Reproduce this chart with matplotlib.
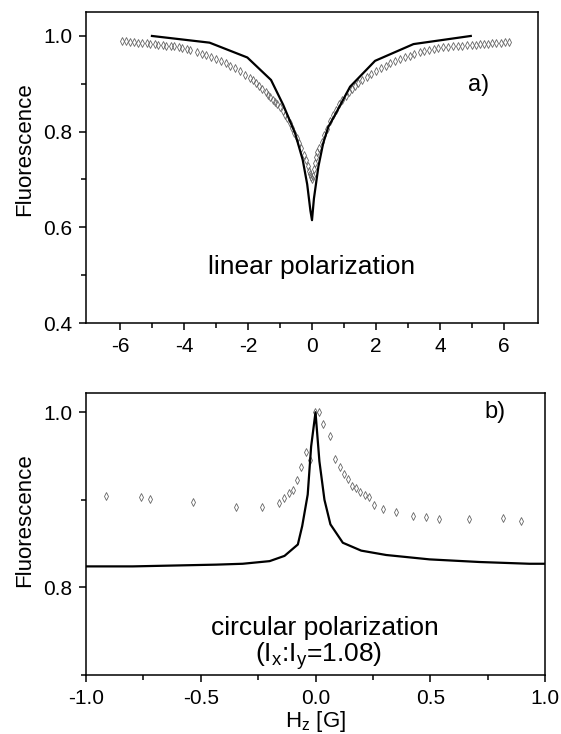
import matplotlib
matplotlib.use('Agg')
import matplotlib.pyplot as plt
from matplotlib.ticker import FixedLocator

plt.rcParams['font.family'] = ['Liberation Sans', 'DejaVu Sans']
plt.rcParams['axes.unicode_minus'] = False
plt.rcParams['mathtext.fontset'] = 'custom'
plt.rcParams['mathtext.rm'] = 'Liberation Sans'
plt.rcParams['mathtext.it'] = 'Liberation Sans'

# panel a) linear polarization: measured points (diamonds)
lin_x = [-5.92, -5.80, -5.67, -5.55, -5.42, -5.30, -5.17, -5.05, -4.92, -4.80,
         -4.67, -4.55, -4.42, -4.30, -4.17, -4.05, -3.92, -3.80, -3.60, -3.45,
         -3.30, -3.15, -3.00, -2.85, -2.70, -2.55, -2.40, -2.25, -2.10, -1.95,
         -1.85, -1.75, -1.65, -1.55, -1.45, -1.38, -1.30, -1.22, -1.15, -1.08,
         -1.00, -0.92, -0.85, -0.78, -0.70, -0.62, -0.55, -0.48, -0.40, -0.33,
         -0.26, -0.20, -0.14, -0.09, -0.05, -0.02, 0.00, 0.02,
         0.05, 0.08, 0.12, 0.17, 0.22, 0.30, 0.38, 0.46, 0.56, 0.65,
         0.75, 0.85, 0.95, 1.05, 1.15, 1.25, 1.35, 1.45, 1.57, 1.71,
         1.85, 2.00, 2.15, 2.30, 2.44, 2.60, 2.75, 2.90, 3.05, 3.20,
         3.37, 3.50, 3.65, 3.80, 3.95, 4.10, 4.25, 4.42, 4.55, 4.70,
         4.85, 5.00, 5.12, 5.25, 5.38, 5.50, 5.63, 5.76, 5.89, 6.02, 6.14]
lin_y = [0.989, 0.989, 0.988, 0.987, 0.986, 0.986, 0.985, 0.984, 0.983, 0.982,
         0.981, 0.980, 0.979, 0.978, 0.976, 0.975, 0.973, 0.971, 0.967, 0.963,
         0.960, 0.956, 0.952, 0.948, 0.943, 0.938, 0.932, 0.926, 0.919, 0.913,
         0.908, 0.902, 0.896, 0.889, 0.882, 0.877, 0.872, 0.867, 0.862, 0.857,
         0.852, 0.843, 0.835, 0.828, 0.818, 0.807, 0.797, 0.787, 0.777, 0.765,
         0.752, 0.740, 0.728, 0.718, 0.711, 0.705, 0.700, 0.708,
         0.722, 0.735, 0.748, 0.758, 0.766, 0.778, 0.792, 0.806, 0.822, 0.834,
         0.846, 0.857, 0.866, 0.875, 0.883, 0.890, 0.896, 0.902, 0.908, 0.915,
         0.921, 0.927, 0.933, 0.938, 0.943, 0.948, 0.952, 0.956, 0.959, 0.963,
         0.967, 0.969, 0.971, 0.973, 0.975, 0.976, 0.977, 0.978, 0.979, 0.980,
         0.981, 0.982, 0.982, 0.983, 0.984, 0.984, 0.985, 0.985, 0.986, 0.987, 0.987]

# panel a) theory curve
lin_theory_x = [-5.0, -3.2, -2.02, -1.28, -0.9, -0.53, -0.29, -0.15, -0.05, 0.0,
                0.06, 0.2, 0.35, 0.51, 0.72, 1.19, 1.97, 3.17, 4.96]
lin_theory_y = [1.0, 0.986, 0.955, 0.908, 0.856, 0.797, 0.741, 0.69, 0.635, 0.615,
                0.66, 0.727, 0.776, 0.81, 0.835, 0.894, 0.948, 0.983, 1.0]

# panel b) circular polarization: measured points
circ_x = [-0.912, -0.760, -0.723, -0.535, -0.346, -0.232, -0.160, -0.139, -0.116,
          -0.099, -0.081, -0.062, -0.041, -0.026, -0.004, 0.015, 0.032, 0.065,
          0.086, 0.105, 0.122, 0.141, 0.160, 0.177, 0.195, 0.214, 0.232, 0.253,
          0.293, 0.349, 0.424, 0.482, 0.540, 0.668, 0.819, 0.895]
circ_y = [0.9045, 0.903, 0.901, 0.897, 0.892, 0.892, 0.896, 0.902, 0.908,
          0.911, 0.923, 0.938, 0.955, 0.946, 1.0, 1.0, 0.987, 0.973,
          0.947, 0.938, 0.929, 0.924, 0.916, 0.913, 0.909, 0.906, 0.903, 0.894,
          0.889, 0.886, 0.882, 0.880, 0.878, 0.878, 0.879, 0.876]

# panel b) theory curve
circ_theory_x = [-1.0, -0.796, -0.433, -0.317, -0.2, -0.135, -0.077, -0.058, -0.034,
                 -0.019, 0.0, 0.017, 0.039, 0.065, 0.119, 0.199, 0.308, 0.497,
                 0.715, 0.932, 1.0]
circ_theory_y = [0.824, 0.824, 0.826, 0.827, 0.830, 0.836, 0.849, 0.870, 0.906,
                 0.961, 1.0, 0.944, 0.900, 0.872, 0.851, 0.842, 0.837, 0.832,
                 0.829, 0.827, 0.827]

fig = plt.figure(figsize=(5.61, 7.34), dpi=100)
ax1 = fig.add_axes([0.1533, 0.5599, 0.8057, 0.4237])
ax2 = fig.add_axes([0.1533, 0.0804, 0.8182, 0.3842])

marker_kw = dict(ls='none', marker='d', markersize=3.6, mfc='none', mec='#666666', mew=0.6)

# top panel
ax1.plot(lin_x, lin_y, **marker_kw)
ax1.plot(lin_theory_x, lin_theory_y, color='black', lw=1.6)
ax1.set_xlim(-7.06, 7.06)
ax1.set_ylim(0.4, 1.05)
ax1.xaxis.set_major_locator(FixedLocator([-6, -4, -2, 0, 2, 4, 6]))
ax1.xaxis.set_minor_locator(FixedLocator([-5, -3, -1, 1, 3, 5]))
ax1.yaxis.set_major_locator(FixedLocator([0.4, 0.6, 0.8, 1.0]))
ax1.yaxis.set_minor_locator(FixedLocator([0.5, 0.7, 0.9]))
ax1.set_xticklabels(['-6', '-4', '-2', '0', '2', '4', '6'])
ax1.set_yticklabels(['0.4', '0.6', '0.8', '1.0'])
ax1.set_ylabel('Fluorescence', fontsize=16)
ax1.yaxis.set_label_coords(-0.112, 0.56)
ax1.text(0.0, 0.517, 'linear polarization', fontsize=19, ha='center', va='center')
ax1.text(5.2, 0.897, 'a)', fontsize=17, ha='center', va='center')

# bottom panel
ax2.plot(circ_x, circ_y, **marker_kw)
ax2.plot(circ_theory_x, circ_theory_y, color='black', lw=1.6)
ax2.set_xlim(-1.0, 1.0)
ax2.set_ylim(0.7, 1.022)
ax2.xaxis.set_major_locator(FixedLocator([-1.0, -0.5, 0.0, 0.5, 1.0]))
ax2.xaxis.set_minor_locator(FixedLocator([-0.75, -0.25, 0.25, 0.75]))
ax2.yaxis.set_major_locator(FixedLocator([0.8, 1.0]))
ax2.yaxis.set_minor_locator(FixedLocator([0.7, 0.9]))
ax2.set_xticklabels(['-1.0', '-0.5', '0.0', '0.5', '1.0'])
ax2.set_yticklabels(['0.8', '1.0'])
ax2.set_ylabel('Fluorescence', fontsize=16)
ax2.yaxis.set_label_coords(-0.11, 0.55)
ax2.set_xlabel(r'H$_\mathregular{z}$ [G]', fontsize=16, labelpad=1)
ax2.text(0.04, 0.754, 'circular polarization', fontsize=19, ha='center', va='center')
ax2.text(0.015, 0.721, r'(I$_\mathregular{x}$:I$_\mathregular{y}$=1.08)', fontsize=19,
         ha='center', va='center')
ax2.text(0.78, 1.0, 'b)', fontsize=17, ha='center', va='center')

for ax in (ax1, ax2):
    for s in ax.spines.values():
        s.set_linewidth(1.1)
    ax.tick_params(which='major', direction='out', length=5, width=1.1, labelsize=15, pad=5)
    ax.tick_params(which='minor', direction='out', length=3.5, width=1.1)

fig.savefig('out.png', dpi=100)
